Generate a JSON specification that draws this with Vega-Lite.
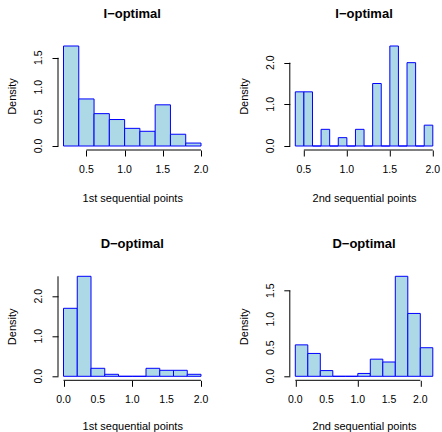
{
  "$schema": "https://vega.github.io/schema/vega-lite/v6.json",
  "padding": {"left": 6, "top": 8, "right": 0, "bottom": 0},
  "background": "white",
  "bounds": "flush",
  "columns": 2,
  "spacing": {"row": 122.3, "column": 82.8},
  "datasets": {
    "p1": [
      {"x0": 0.2, "x1": 0.4, "density": 1.7},
      {"x0": 0.4, "x1": 0.6, "density": 0.8},
      {"x0": 0.6, "x1": 0.8, "density": 0.55},
      {"x0": 0.8, "x1": 1.0, "density": 0.45},
      {"x0": 1.0, "x1": 1.2, "density": 0.3},
      {"x0": 1.2, "x1": 1.4, "density": 0.25},
      {"x0": 1.4, "x1": 1.6, "density": 0.7},
      {"x0": 1.6, "x1": 1.8, "density": 0.2},
      {"x0": 1.8, "x1": 2.0, "density": 0.05}
    ],
    "p2": [
      {"x0": 0.4, "x1": 0.5, "density": 1.3},
      {"x0": 0.5, "x1": 0.6, "density": 1.3},
      {"x0": 0.6, "x1": 0.7, "density": 0},
      {"x0": 0.7, "x1": 0.8, "density": 0.4},
      {"x0": 0.8, "x1": 0.9, "density": 0},
      {"x0": 0.9, "x1": 1.0, "density": 0.2},
      {"x0": 1.0, "x1": 1.1, "density": 0},
      {"x0": 1.1, "x1": 1.2, "density": 0.4},
      {"x0": 1.2, "x1": 1.3, "density": 0},
      {"x0": 1.3, "x1": 1.4, "density": 1.5},
      {"x0": 1.4, "x1": 1.5, "density": 0},
      {"x0": 1.5, "x1": 1.6, "density": 2.4},
      {"x0": 1.6, "x1": 1.7, "density": 0},
      {"x0": 1.7, "x1": 1.8, "density": 2.0},
      {"x0": 1.8, "x1": 1.9, "density": 0},
      {"x0": 1.9, "x1": 2.0, "density": 0.5}
    ],
    "p3": [
      {"x0": 0.0, "x1": 0.2, "density": 1.7},
      {"x0": 0.2, "x1": 0.4, "density": 2.5},
      {"x0": 0.4, "x1": 0.6, "density": 0.2},
      {"x0": 0.6, "x1": 0.8, "density": 0.05},
      {"x0": 0.8, "x1": 1.0, "density": 0},
      {"x0": 1.0, "x1": 1.2, "density": 0},
      {"x0": 1.2, "x1": 1.4, "density": 0.2},
      {"x0": 1.4, "x1": 1.6, "density": 0.15},
      {"x0": 1.6, "x1": 1.8, "density": 0.15},
      {"x0": 1.8, "x1": 2.0, "density": 0.05}
    ],
    "p4": [
      {"x0": 0.0, "x1": 0.2, "density": 0.55},
      {"x0": 0.2, "x1": 0.4, "density": 0.4},
      {"x0": 0.4, "x1": 0.6, "density": 0.1},
      {"x0": 0.6, "x1": 0.8, "density": 0},
      {"x0": 0.8, "x1": 1.0, "density": 0},
      {"x0": 1.0, "x1": 1.2, "density": 0.05},
      {"x0": 1.2, "x1": 1.4, "density": 0.3},
      {"x0": 1.4, "x1": 1.6, "density": 0.25},
      {"x0": 1.6, "x1": 1.8, "density": 1.75},
      {"x0": 1.8, "x1": 2.0, "density": 1.1},
      {"x0": 2.0, "x1": 2.2, "density": 0.5}
    ],
    "one": [{}],
    "xA": [{"v": 0.5}, {"v": 1.0}, {"v": 1.5}, {"v": 2.0}],
    "xB": [{"v": 0.0}, {"v": 0.5}, {"v": 1.0}, {"v": 1.5}, {"v": 2.0}],
    "yA": [{"v": 0.0}, {"v": 0.5}, {"v": 1.0}, {"v": 1.5}],
    "yB": [{"v": 0.0}, {"v": 1.0}, {"v": 2.0}]
  },
  "concat": [
    {
      "width": 148.5, "height": 108,
      "title": {"text": "I−optimal"},
      "layer": [
        {
          "data": {"name": "p1"},
          "mark": {"type": "rect", "fill": "#ADD8E6", "stroke": "#0000FF", "strokeWidth": 1},
          "encoding": {
            "x": {"field": "x0", "type": "quantitative", "scale": {"domain": [0.128, 2.072], "nice": false, "zero": false},
                  "axis": {"values": [0.5, 1, 1.5, 2], "labels": false, "title": "1st sequential points"}},
            "x2": {"field": "x1"},
            "y": {"field": "density", "type": "quantitative", "scale": {"domain": [-0.068, 1.768], "nice": false, "zero": false},
                  "axis": {"values": [0, 0.5, 1, 1.5], "labels": false, "title": "Density"}},
            "y2": {"datum": 0}
          }
        },
        {"data": {"name": "one"}, "mark": {"type": "rule", "color": "#000", "strokeWidth": 1},
         "encoding": {"x": {"datum": 0.5}, "x2": {"datum": 2.0}, "y": {"datum": -0.068}}},
        {"data": {"name": "one"}, "mark": {"type": "rule", "color": "#000", "strokeWidth": 1},
         "encoding": {"y": {"datum": 0}, "y2": {"datum": 1.5}, "x": {"datum": 0.128}}},
        {"data": {"name": "xA"}, "mark": {"type": "text", "baseline": "middle", "align": "center", "dy": 20},
         "encoding": {"x": {"field": "v", "type": "quantitative"}, "y": {"datum": -0.068}, "text": {"field": "v", "type": "quantitative", "format": ".1f"}}},
        {"data": {"name": "yA"}, "mark": {"type": "text", "baseline": "middle", "align": "center", "angle": 270, "dy": -19},
         "encoding": {"y": {"field": "v", "type": "quantitative"}, "x": {"datum": 0.128}, "text": {"field": "v", "type": "quantitative", "format": ".1f"}}}
      ]
    },
    {
      "width": 148.5, "height": 108,
      "title": {"text": "I−optimal"},
      "layer": [
        {
          "data": {"name": "p2"},
          "mark": {"type": "rect", "fill": "#ADD8E6", "stroke": "#0000FF", "strokeWidth": 1},
          "encoding": {
            "x": {"field": "x0", "type": "quantitative", "scale": {"domain": [0.336, 2.064], "nice": false, "zero": false},
                  "axis": {"values": [0.5, 1, 1.5, 2], "labels": false, "title": "2nd sequential points"}},
            "x2": {"field": "x1"},
            "y": {"field": "density", "type": "quantitative", "scale": {"domain": [-0.096, 2.496], "nice": false, "zero": false},
                  "axis": {"values": [0, 0.5, 1, 1.5, 2], "labels": false, "title": "Density"}},
            "y2": {"datum": 0}
          }
        },
        {"data": {"name": "one"}, "mark": {"type": "rule", "color": "#000", "strokeWidth": 1},
         "encoding": {"x": {"datum": 0.5}, "x2": {"datum": 2.0}, "y": {"datum": -0.096}}},
        {"data": {"name": "one"}, "mark": {"type": "rule", "color": "#000", "strokeWidth": 1},
         "encoding": {"y": {"datum": 0}, "y2": {"datum": 2.0}, "x": {"datum": 0.336}}},
        {"data": {"name": "xA"}, "mark": {"type": "text", "baseline": "middle", "align": "center", "dy": 20},
         "encoding": {"x": {"field": "v", "type": "quantitative"}, "y": {"datum": -0.096}, "text": {"field": "v", "type": "quantitative", "format": ".1f"}}},
        {"data": {"name": "yB"}, "mark": {"type": "text", "baseline": "middle", "align": "center", "angle": 270, "dy": -19},
         "encoding": {"y": {"field": "v", "type": "quantitative"}, "x": {"datum": 0.336}, "text": {"field": "v", "type": "quantitative", "format": ".1f"}}}
      ]
    },
    {
      "width": 148.5, "height": 108,
      "title": {"text": "D−optimal"},
      "layer": [
        {
          "data": {"name": "p3"},
          "mark": {"type": "rect", "fill": "#ADD8E6", "stroke": "#0000FF", "strokeWidth": 1},
          "encoding": {
            "x": {"field": "x0", "type": "quantitative", "scale": {"domain": [-0.08, 2.08], "nice": false, "zero": false},
                  "axis": {"values": [0, 0.5, 1, 1.5, 2], "labels": false, "titlePadding": 33.5, "title": "1st sequential points"}},
            "x2": {"field": "x1"},
            "y": {"field": "density", "type": "quantitative", "scale": {"domain": [-0.1, 2.6], "nice": false, "zero": false},
                  "axis": {"values": [0, 0.5, 1, 1.5, 2, 2.5], "labels": false, "title": "Density"}},
            "y2": {"datum": 0}
          }
        },
        {"data": {"name": "one"}, "mark": {"type": "rule", "color": "#000", "strokeWidth": 1},
         "encoding": {"x": {"datum": 0}, "x2": {"datum": 2.0}, "y": {"datum": -0.1}}},
        {"data": {"name": "one"}, "mark": {"type": "rule", "color": "#000", "strokeWidth": 1},
         "encoding": {"y": {"datum": 0}, "y2": {"datum": 2.5}, "x": {"datum": -0.08}}},
        {"data": {"name": "xB"}, "mark": {"type": "text", "baseline": "middle", "align": "center", "dy": 20},
         "encoding": {"x": {"field": "v", "type": "quantitative"}, "y": {"datum": -0.1}, "text": {"field": "v", "type": "quantitative", "format": ".1f"}}},
        {"data": {"name": "yB"}, "mark": {"type": "text", "baseline": "middle", "align": "center", "angle": 270, "dy": -19},
         "encoding": {"y": {"field": "v", "type": "quantitative"}, "x": {"datum": -0.08}, "text": {"field": "v", "type": "quantitative", "format": ".1f"}}}
      ]
    },
    {
      "width": 148.5, "height": 108,
      "title": {"text": "D−optimal"},
      "layer": [
        {
          "data": {"name": "p4"},
          "mark": {"type": "rect", "fill": "#ADD8E6", "stroke": "#0000FF", "strokeWidth": 1},
          "encoding": {
            "x": {"field": "x0", "type": "quantitative", "scale": {"domain": [-0.088, 2.288], "nice": false, "zero": false},
                  "axis": {"values": [0, 0.5, 1, 1.5, 2], "labels": false, "titlePadding": 33.5, "title": "2nd sequential points"}},
            "x2": {"field": "x1"},
            "y": {"field": "density", "type": "quantitative", "scale": {"domain": [-0.07, 1.82], "nice": false, "zero": false},
                  "axis": {"values": [0, 0.5, 1, 1.5], "labels": false, "title": "Density"}},
            "y2": {"datum": 0}
          }
        },
        {"data": {"name": "one"}, "mark": {"type": "rule", "color": "#000", "strokeWidth": 1},
         "encoding": {"x": {"datum": 0}, "x2": {"datum": 2.0}, "y": {"datum": -0.07}}},
        {"data": {"name": "one"}, "mark": {"type": "rule", "color": "#000", "strokeWidth": 1},
         "encoding": {"y": {"datum": 0}, "y2": {"datum": 1.5}, "x": {"datum": -0.088}}},
        {"data": {"name": "xB"}, "mark": {"type": "text", "baseline": "middle", "align": "center", "dy": 20},
         "encoding": {"x": {"field": "v", "type": "quantitative"}, "y": {"datum": -0.07}, "text": {"field": "v", "type": "quantitative", "format": ".1f"}}},
        {"data": {"name": "yA"}, "mark": {"type": "text", "baseline": "middle", "align": "center", "angle": 270, "dy": -19},
         "encoding": {"y": {"field": "v", "type": "quantitative"}, "x": {"datum": -0.088}, "text": {"field": "v", "type": "quantitative", "format": ".1f"}}}
      ]
    }
  ],
  "config": {
    "font": "Liberation Sans",
    "view": {"stroke": null},
    "text": {"fontSize": 10.5, "color": "#000", "font": "Liberation Sans"},
    "axis": {
      "domain": false, "grid": false,
      "tickColor": "#000", "tickSize": 6, "tickWidth": 1,
      "titleColor": "#000", "titleFontSize": 11, "titleFontWeight": "normal", "titleFont": "Liberation Sans"
    },
    "axisX": {"titlePadding": 35.5},
    "axisY": {"titlePadding": 34},
    "title": {"fontSize": 13, "fontWeight": "bold", "color": "#000", "font": "Liberation Sans", "frame": "group", "anchor": "middle", "offset": 21}
  }
}
